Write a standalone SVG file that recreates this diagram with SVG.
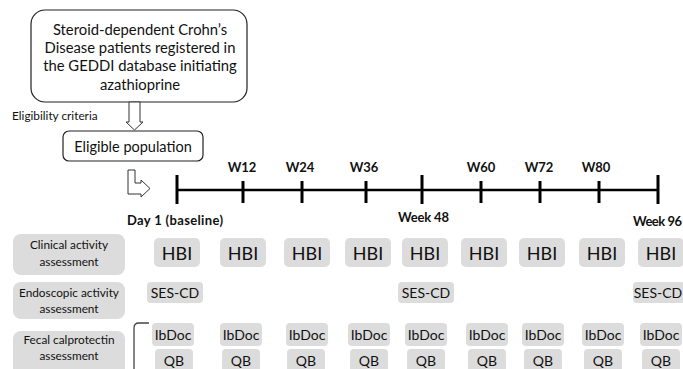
<svg xmlns="http://www.w3.org/2000/svg" width="683" height="369" viewBox="0 0 683 369">
<style>
text{font-family:Lato,"Liberation Sans",sans-serif;fill:#111}
.wb{fill:#fff;stroke:#222;stroke-width:1.2}
.g{fill:#dcdcdc;stroke:none}
.lab{font-size:11.8px;text-anchor:middle}
.hb{font-size:18px;text-anchor:middle}
.sm{font-size:14px;text-anchor:middle}
.tl{font-size:13px;font-weight:bold}
.tlc{font-size:13px;font-weight:bold;text-anchor:middle}
.tk{stroke:#000;stroke-width:3}
.ar{fill:#fff;stroke:#333;stroke-width:1}
.box{font-size:14.8px;text-anchor:middle}
</style>
<rect width="683" height="369" fill="#fff"/>
<g id="source">
<rect class="wb" x="31" y="10" width="216" height="92" rx="14"/>
<text class="box" x="140" y="35">Steroid-dependent Crohn’s</text>
<text class="box" x="140" y="53">Disease patients registered in</text>
<text class="box" x="140" y="71">the GEDDI  database initiating</text>
<text class="box" x="140" y="90">azathioprine</text>
</g>
<g id="eligible">
<rect class="wb" x="63" y="131" width="140" height="30" rx="6"/>
<text x="133" y="152" font-size="14.5" text-anchor="middle">Eligible population</text>
</g>
<g id="connectors">
<path class="ar" d="M129,102 L140,102 L140,122 L143,122 L134.5,130 L126,122 L129,122 Z"/>
<text x="12" y="120" font-size="11.8">Eligibility criteria</text>
<path class="ar" d="M128,170 L135,170 L135,183 L141,183 L141,180 L150,188.5 L141,197 L141,194 L128,194 Z"/>
<path d="M149,323 L139,323 Q134,323 134,328 L134,369" fill="none" stroke="#444" stroke-width="1.3"/>
</g>
<g id="timeline">
<line x1="177" y1="190" x2="658" y2="190" stroke="#000" stroke-width="2.5"/>
<line class="tk" x1="177" y1="175" x2="177" y2="204"/>
<line class="tk" x1="243" y1="181" x2="243" y2="203"/>
<line class="tk" x1="302" y1="181" x2="302" y2="203"/>
<line class="tk" x1="366" y1="181" x2="366" y2="203"/>
<line class="tk" x1="422" y1="175" x2="422" y2="204"/>
<line class="tk" x1="481" y1="181" x2="481" y2="203"/>
<line class="tk" x1="540" y1="181" x2="540" y2="203"/>
<line class="tk" x1="599" y1="181" x2="599" y2="203"/>
<line class="tk" x1="658" y1="175" x2="658" y2="204"/>
<text class="tlc" x="242" y="172">W12</text>
<text class="tlc" x="300" y="172">W24</text>
<text class="tlc" x="364" y="172">W36</text>
<text class="tlc" x="481" y="172">W60</text>
<text class="tlc" x="539" y="172">W72</text>
<text class="tlc" x="596" y="172">W80</text>
<text class="tl" x="127" y="225" textLength="96">Day 1 (baseline)</text>
<text class="tl" x="398" y="222" textLength="51">Week 48</text>
<text class="tl" x="633" y="226" textLength="49">Week 96</text>
</g>
<g id="row-clinical">
<rect class="g" x="13" y="234" width="112" height="41" rx="8"/>
<text class="lab" x="69" y="249">Clinical activity</text>
<text class="lab" x="69" y="266">assessment</text>
</g>
<g id="row-endoscopic">
<rect class="g" x="13" y="282" width="112" height="37" rx="8"/>
<text class="lab" x="69" y="297">Endoscopic activity</text>
<text class="lab" x="69" y="313">assessment</text>
</g>
<g id="row-fecal">
<rect class="g" x="13" y="331" width="112" height="48" rx="8"/>
<text class="lab" x="69" y="344">Fecal calprotectin</text>
<text class="lab" x="69" y="360">assessment</text>
</g>
<g id="hbi">
<rect class="g" x="154" y="238" width="46" height="29" rx="5"/><text class="hb" x="177" y="259.5">HBI</text>
<rect class="g" x="220" y="238" width="46" height="29" rx="5"/><text class="hb" x="243" y="259.5">HBI</text>
<rect class="g" x="284" y="238" width="46" height="29" rx="5"/><text class="hb" x="307" y="259.5">HBI</text>
<rect class="g" x="345" y="238" width="46" height="29" rx="5"/><text class="hb" x="368" y="259.5">HBI</text>
<rect class="g" x="402" y="238" width="46" height="29" rx="5"/><text class="hb" x="425" y="259.5">HBI</text>
<rect class="g" x="461" y="238" width="46" height="29" rx="5"/><text class="hb" x="484" y="259.5">HBI</text>
<rect class="g" x="519" y="238" width="46" height="29" rx="5"/><text class="hb" x="542" y="259.5">HBI</text>
<rect class="g" x="579" y="238" width="46" height="29" rx="5"/><text class="hb" x="602" y="259.5">HBI</text>
<rect class="g" x="638" y="238" width="46" height="29" rx="5"/><text class="hb" x="661" y="259.5">HBI</text>
</g>
<g id="ses-cd">
<rect class="g" x="147" y="282" width="56" height="21" rx="4"/><text class="sm" x="175" y="297.5">SES-CD</text>
<rect class="g" x="398" y="282" width="56" height="21" rx="4"/><text class="sm" x="426" y="297.5">SES-CD</text>
<rect class="g" x="633" y="282" width="52" height="21" rx="4"/><text class="sm" x="658" y="297.5">SES-CD</text>
</g>
<g id="ibdoc">
<rect class="g" x="152" y="323" width="42" height="23" rx="4"/><text class="sm" x="173" y="339.5">IbDoc</text>
<rect class="g" x="220" y="323" width="42" height="23" rx="4"/><text class="sm" x="241" y="339.5">IbDoc</text>
<rect class="g" x="286" y="323" width="42" height="23" rx="4"/><text class="sm" x="307" y="339.5">IbDoc</text>
<rect class="g" x="348" y="323" width="42" height="23" rx="4"/><text class="sm" x="369" y="339.5">IbDoc</text>
<rect class="g" x="405" y="323" width="42" height="23" rx="4"/><text class="sm" x="426" y="339.5">IbDoc</text>
<rect class="g" x="466" y="323" width="42" height="23" rx="4"/><text class="sm" x="487" y="339.5">IbDoc</text>
<rect class="g" x="522" y="323" width="42" height="23" rx="4"/><text class="sm" x="543" y="339.5">IbDoc</text>
<rect class="g" x="582" y="323" width="42" height="23" rx="4"/><text class="sm" x="603" y="339.5">IbDoc</text>
<rect class="g" x="640" y="323" width="42" height="23" rx="4"/><text class="sm" x="661" y="339.5">IbDoc</text>
</g>
<g id="qb">
<rect class="g" x="155" y="349" width="38" height="24" rx="4"/><text class="sm" x="174" y="366">QB</text>
<rect class="g" x="222" y="349" width="38" height="24" rx="4"/><text class="sm" x="241" y="366">QB</text>
<rect class="g" x="287" y="349" width="38" height="24" rx="4"/><text class="sm" x="306" y="366">QB</text>
<rect class="g" x="350" y="349" width="38" height="24" rx="4"/><text class="sm" x="369" y="366">QB</text>
<rect class="g" x="407" y="349" width="38" height="24" rx="4"/><text class="sm" x="426" y="366">QB</text>
<rect class="g" x="468" y="349" width="38" height="24" rx="4"/><text class="sm" x="487" y="366">QB</text>
<rect class="g" x="524" y="349" width="38" height="24" rx="4"/><text class="sm" x="543" y="366">QB</text>
<rect class="g" x="584" y="349" width="38" height="24" rx="4"/><text class="sm" x="603" y="366">QB</text>
<rect class="g" x="642" y="349" width="38" height="24" rx="4"/><text class="sm" x="661" y="366">QB</text>
</g>
</svg>
